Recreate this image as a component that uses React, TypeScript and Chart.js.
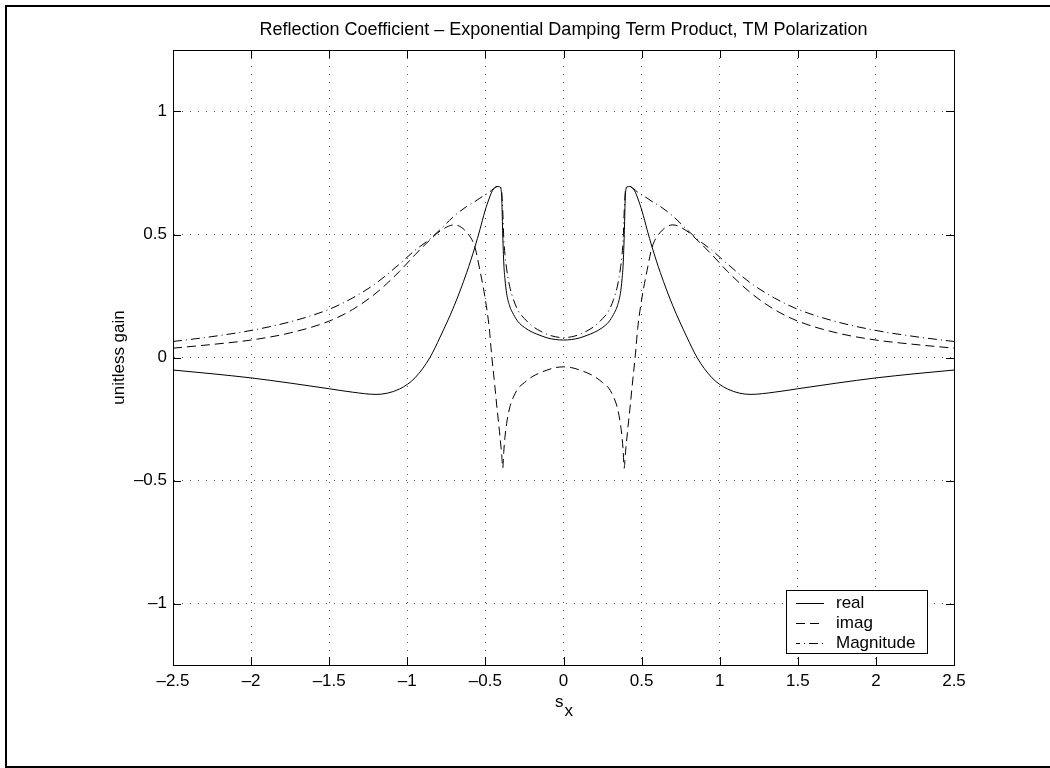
import React, { useEffect, useRef } from "react";
import { Chart, registerables } from "chart.js";

Chart.register(...registerables);

const FONT = '"Liberation Sans", Arial, Helvetica, sans-serif';

const titleText = "Reflection Coefficient – Exponential Damping Term Product, TM Polarization";
const yAxisTitle = "unitless gain";
const xAxisTitleMain = "s";
const xAxisTitleSub = "x";

const xTicks = [-2.5, -2, -1.5, -1, -0.5, 0, 0.5, 1, 1.5, 2, 2.5];
const xTickLabels = ["–2.5", "–2", "–1.5", "–1", "–0.5", "0", "0.5", "1", "1.5", "2", "2.5"];
const yTicks = [-1, -0.5, 0, 0.5, 1];
const yTickLabels = ["–1", "–0.5", "0", "0.5", "1"];

const seriesNames = ["real", "imag", "Magnitude"];

const sx = [
  -2.5, -2.25, -2, -1.75, -1.5, -1.35, -1.2, -1.05, -0.95, -0.855, -0.79, -0.7, -0.62, -0.567,
  -0.535, -0.503, -0.475, -0.46, -0.44, -0.425, -0.41, -0.4, -0.395, -0.389, -0.382, -0.375,
  -0.364, -0.345, -0.32, -0.29, -0.25, -0.2, -0.15, -0.1, -0.05, 0,
  0.05, 0.1, 0.15, 0.2, 0.25, 0.29, 0.32, 0.345, 0.364, 0.375, 0.382, 0.389, 0.395, 0.4, 0.41,
  0.425, 0.44, 0.46, 0.475, 0.503, 0.535, 0.567, 0.62, 0.7, 0.79, 0.855, 0.95, 1.05, 1.2, 1.35,
  1.5, 1.75, 2, 2.25, 2.5,
];

const realValues = [
  -0.051, -0.066, -0.083, -0.104, -0.127, -0.141, -0.15, -0.128, -0.082, 0.0, 0.083, 0.21, 0.345,
  0.449, 0.52, 0.595, 0.648, 0.672, 0.69, 0.695, 0.694, 0.685, 0.64, 0.5, 0.38, 0.32, 0.26, 0.21,
  0.175, 0.145, 0.122, 0.103, 0.09, 0.079, 0.073, 0.071,
  0.073, 0.079, 0.09, 0.103, 0.122, 0.145, 0.175, 0.21, 0.26, 0.32, 0.38, 0.5, 0.64, 0.685,
  0.694, 0.695, 0.69, 0.672, 0.648, 0.595, 0.52, 0.449, 0.345, 0.21, 0.083, 0.0, -0.082, -0.128,
  -0.15, -0.141, -0.127, -0.104, -0.083, -0.066, -0.051,
];

const imagValues = [
  0.038, 0.053, 0.071, 0.1, 0.148, 0.195, 0.262, 0.35, 0.418, 0.478, 0.514, 0.539, 0.509, 0.448,
  0.354, 0.246, 0.118, 0.01, -0.113, -0.21, -0.3, -0.365, -0.4, -0.45, -0.38, -0.325, -0.268,
  -0.205, -0.16, -0.125, -0.102, -0.078, -0.062, -0.05, -0.041, -0.038,
  -0.041, -0.05, -0.062, -0.078, -0.102, -0.125, -0.16, -0.205, -0.268, -0.325, -0.38, -0.45,
  -0.4, -0.365, -0.3, -0.21, -0.113, 0.01, 0.118, 0.246, 0.354, 0.448, 0.509, 0.539, 0.514,
  0.478, 0.418, 0.35, 0.262, 0.195, 0.148, 0.1, 0.071, 0.053, 0.038,
];

const magnitudeValues = [
  0.065, 0.085, 0.11, 0.145, 0.196, 0.242, 0.302, 0.38, 0.436, 0.482, 0.52, 0.575, 0.614, 0.634,
  0.648, 0.66, 0.672, 0.68, 0.69, 0.695, 0.695, 0.69, 0.67, 0.6, 0.48, 0.42, 0.36, 0.29, 0.235,
  0.19, 0.158, 0.128, 0.108, 0.093, 0.084, 0.081,
  0.084, 0.093, 0.108, 0.128, 0.158, 0.19, 0.235, 0.29, 0.36, 0.42, 0.48, 0.6, 0.67, 0.69,
  0.695, 0.695, 0.69, 0.68, 0.672, 0.66, 0.648, 0.634, 0.614, 0.575, 0.52, 0.482, 0.436,
  0.38, 0.302, 0.242, 0.196, 0.145, 0.11, 0.085, 0.065,
];

const dashPatterns: number[][] = [[], [9, 5], [9, 4, 1, 4]];

const toPoints = (vals: number[]) => sx.map((x, i) => ({ x, y: vals[i] }));

const decorPlugin = {
  id: "decor",
  afterDatasetsDraw(chart: any) {
    const { ctx, chartArea: a, scales } = chart;
    ctx.save();
    ctx.strokeStyle = "#000";
    ctx.lineWidth = 1;
    ctx.setLineDash([]);
    ctx.beginPath();
    ctx.moveTo(a.left, a.top + 0.5);
    ctx.lineTo(a.right + 1, a.top + 0.5);
    ctx.moveTo(a.right + 0.5, a.top);
    ctx.lineTo(a.right + 0.5, a.bottom + 1);
    const tl = 8;
    for (const v of xTicks) {
      const px = Math.round(scales.x.getPixelForValue(v)) + 0.5;
      ctx.moveTo(px, a.bottom);
      ctx.lineTo(px, a.bottom - tl);
      ctx.moveTo(px, a.top);
      ctx.lineTo(px, a.top + tl);
    }
    for (const v of yTicks) {
      const py = Math.round(scales.y.getPixelForValue(v)) + 0.5;
      ctx.moveTo(a.left, py);
      ctx.lineTo(a.left + tl, py);
      ctx.moveTo(a.right, py);
      ctx.lineTo(a.right - tl, py);
    }
    ctx.stroke();
    ctx.restore();
  },
  afterDraw(chart: any) {
    const { ctx, chartArea: a } = chart;
    ctx.save();
    ctx.fillStyle = "#000";
    // title
    ctx.font = `18px ${FONT}`;
    ctx.textAlign = "center";
    ctx.textBaseline = "middle";
    ctx.fillText(titleText, (a.left + a.right) / 2, 30);
    ctx.font = `17px ${FONT}`;
    // y title
    ctx.save();
    ctx.translate(119, (a.top + a.bottom) / 2);
    ctx.rotate(-Math.PI / 2);
    ctx.fillText(yAxisTitle, 0, 0);
    ctx.restore();
    // x title with subscript
    ctx.textAlign = "left";
    ctx.textBaseline = "alphabetic";
    const wS = ctx.measureText(xAxisTitleMain).width;
    const wX = ctx.measureText(xAxisTitleSub).width;
    const startX = (a.left + a.right) / 2 - (wS + wX) / 2;
    ctx.fillText(xAxisTitleMain, startX, 707);
    ctx.fillText(xAxisTitleSub, startX + wS + 1, 716);

    // legend
    const lx = 786, ly = 590, lw = 141, lh = 63;
    ctx.fillStyle = "#fff";
    ctx.fillRect(lx, ly, lw, lh);
    ctx.strokeStyle = "#000";
    ctx.lineWidth = 1;
    ctx.strokeRect(lx + 0.5, ly + 0.5, lw, lh);
    const rows = [602.5, 622.5, 642.5];
    chart.data.datasets.forEach((ds: any, i: number) => {
      ctx.save();
      ctx.beginPath();
      ctx.setLineDash(ds.borderDash || []);
      ctx.lineDashOffset = i === 2 ? 5 : 0;
      ctx.moveTo(796, Math.round(rows[i]) + 0.5);
      ctx.lineTo(824, Math.round(rows[i]) + 0.5);
      ctx.strokeStyle = "#000";
      ctx.lineWidth = 1;
      ctx.stroke();
      ctx.restore();
      ctx.fillStyle = "#000";
      ctx.textAlign = "left";
      ctx.textBaseline = "middle";
      ctx.fillText(ds.label, 836, rows[i] + 1);
    });

    // outer frame
    ctx.strokeStyle = "#000";
    ctx.lineWidth = 2;
    ctx.setLineDash([]);
    ctx.beginPath();
    ctx.moveTo(5, 6);
    ctx.lineTo(1050, 6);
    ctx.moveTo(6, 5);
    ctx.lineTo(6, 768);
    ctx.moveTo(5, 767);
    ctx.lineTo(1050, 767);
    ctx.stroke();
    ctx.restore();
  },
};

export default function App() {
  const canvasRef = useRef<HTMLCanvasElement | null>(null);

  useEffect(() => {
    const canvas = canvasRef.current;
    if (!canvas) return;
    const seriesValues = [realValues, imagValues, magnitudeValues];
    const gridColor = (c: any) => {
      const v = c.tick ? c.tick.value : 0;
      return Math.abs(v) >= 2.5 ? "rgba(0,0,0,0)" : "#555";
    };
    const chart = new Chart(canvas, {
      type: "line",
      data: {
        datasets: seriesNames.map((name, i) => ({
          label: name,
          data: toPoints(seriesValues[i]),
          borderColor: "#000",
          backgroundColor: "#000",
          borderWidth: 1,
          borderDash: dashPatterns[i],
          pointRadius: 0,
          pointHoverRadius: 0,
          fill: false,
          cubicInterpolationMode: "monotone",
        })),
      },
      plugins: [decorPlugin],
      options: {
        animation: false,
        responsive: false,
        maintainAspectRatio: false,
        devicePixelRatio: 1,
        events: [],
        layout: { padding: { left: 0, top: 50, right: 96, bottom: 0 } },
        plugins: {
          legend: { display: false },
          title: { display: false },
          tooltip: { enabled: false },
        },
        scales: {
          x: {
            type: "linear",
            min: -2.5,
            max: 2.5,
            afterFit: (s: any) => {
              s.height = 103;
            },
            afterBuildTicks: (s: any) => {
              s.ticks = xTicks.map((v) => ({ value: v }));
            },
            ticks: {
              autoSkip: false,
              maxRotation: 0,
              minRotation: 0,
              padding: 6,
              color: "#000",
              font: { family: FONT, size: 17 },
              callback: (value: any) => {
                const idx = xTicks.indexOf(Number(value));
                return idx >= 0 ? xTickLabels[idx] : "";
              },
            },
            grid: { display: true, drawTicks: false, color: gridColor, lineWidth: 1 },
            border: { display: true, color: "#000", width: 1, dash: [1, 7] },
          },
          y: {
            type: "linear",
            min: -1.25,
            max: 1.25,
            afterFit: (s: any) => {
              s.width = 173;
            },
            afterBuildTicks: (s: any) => {
              s.ticks = yTicks.map((v) => ({ value: v }));
            },
            ticks: {
              autoSkip: false,
              padding: 6,
              color: "#000",
              font: { family: FONT, size: 17 },
              callback: (value: any) => {
                const idx = yTicks.indexOf(Number(value));
                return idx >= 0 ? yTickLabels[idx] : "";
              },
            },
            grid: { display: true, drawTicks: false, color: gridColor, lineWidth: 1 },
            border: { display: true, color: "#000", width: 1, dash: [1, 7] },
          },
        },
      } as any,
    });
    return () => chart.destroy();
  }, []);

  return (
    <div style={{ position: "fixed", left: 0, top: 0, width: 1050, height: 768, background: "#fff" }}>
      <canvas ref={canvasRef} width={1050} height={768} style={{ display: "block" }} />
    </div>
  );
}
